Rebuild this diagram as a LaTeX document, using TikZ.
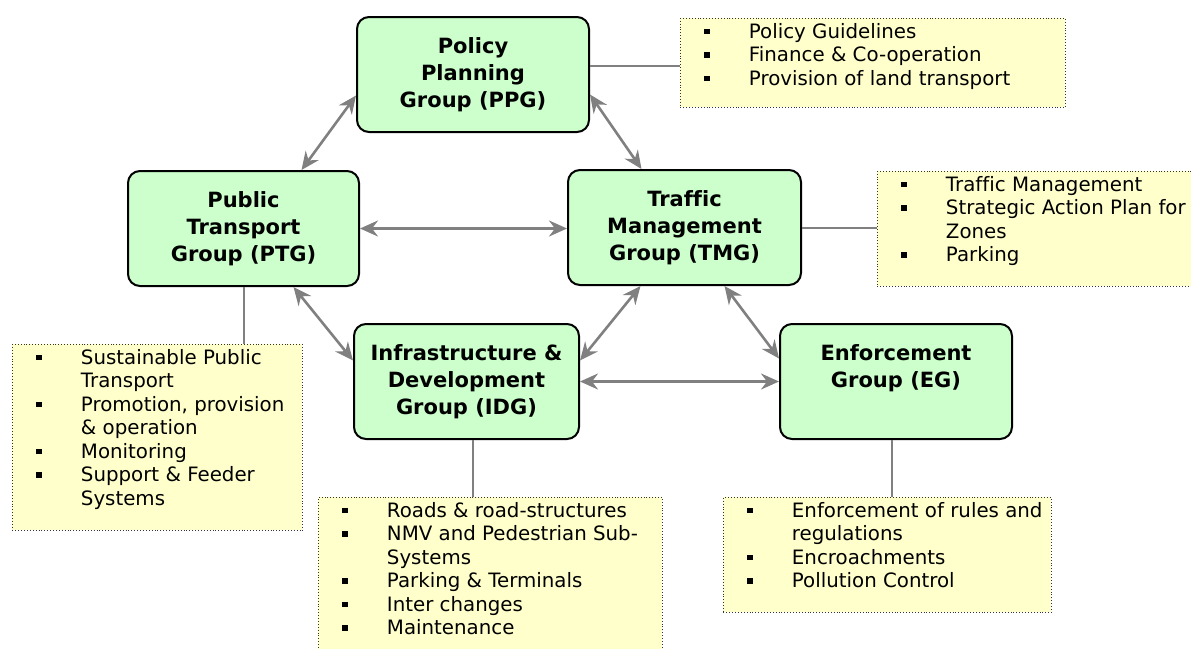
\documentclass[tikz,border=0pt]{standalone}
\usepackage{fontspec}
\setmainfont{DejaVu Sans}[Ligatures=NoCommon]
\usepackage{xcolor}
\usetikzlibrary{arrows.meta}

\definecolor{grpgreen}{HTML}{CCFFCC}
\definecolor{notegelb}{HTML}{FFFFCC}
\definecolor{linegray}{HTML}{808080}

\newcommand{\bul}{\rule[4pt]{5.5pt}{5.5pt}}
\newcommand{\grp}[1]{\parbox[c][115pt][t]{215pt}{\centering\fontsize{21}{27}\selectfont\bfseries\rule{0pt}{36pt}#1}}
\newcommand{\notes}[3]{\parbox[c][#2][t]{#1}{\fontsize{19.8}{23.5}\selectfont\vspace*{3.5pt}%
  \begin{tabular}[t]{@{\hspace{24pt}}l@{\hspace{39pt}}l@{}}#3\end{tabular}}}

\begin{document}
\begin{tikzpicture}[x=1pt, y=-1pt,
  grp/.style={draw=black, line width=2pt, rounded corners=12pt, fill=grpgreen, inner sep=0pt, minimum height=115pt},
  note/.style={draw=black!80, dotted, line width=0.9pt, fill=notegelb, inner sep=0pt, anchor=north west},
  link/.style={linegray, line width=2pt},
  pfeil/.style={linegray, line width=2.6pt, {Stealth[length=18pt,width=16pt,inset=6pt]}-{Stealth[length=18pt,width=16pt,inset=6pt]}}]
  \useasboundingbox (0,0) rectangle (1191,648);

  % Gruppen
  \node[grp, minimum width=232pt] (ppg) at (473,74.5) {\grp{Policy\\Planning\\Group (PPG)}};
  \node[grp, minimum width=231pt] (ptg) at (243.5,228.5) {\grp{Public\\Transport\\Group (PTG)}};
  \node[grp, minimum width=233pt] (tmg) at (684.5,227.5) {\grp{Traffic\\Management\\Group (TMG)}};
  \node[grp, minimum width=225pt] (idg) at (466.5,381.5) {\grp{Infrastructure \&\\Development\\Group (IDG)}};
  \node[grp, minimum width=232pt] (eg) at (896,381.5) {\grp{Enforcement\\Group (EG)}};

  % Aufgaben
  \node[note] (ppgl) at (680,18) {\notes{385pt}{89pt}{\bul & Policy Guidelines\\ \bul & Finance \& Co-operation\\ \bul & Provision of land transport}};
  \node[note] (tmgl) at (877,171) {\notes{330pt}{115pt}{\bul & Traffic Management\\ \bul & Strategic Action Plan for\\ & Zones\\ \bul & Parking}};
  \node[note] (ptgl) at (12,344) {\notes{290pt}{186pt}{\bul & Sustainable Public\\ & Transport\\ \bul & Promotion, provision\\ & \& operation\\ \bul & Monitoring\\ \bul & Support \& Feeder\\ & Systems}};
  \node[note] (idgl) at (318,497) {\notes{344pt}{160pt}{\bul & Roads \& road-structures\\ \bul & NMV and Pedestrian Sub-\\ & Systems\\ \bul & Parking \& Terminals\\ \bul & Inter changes\\ \bul & Maintenance}};
  \node[note] (egl) at (723,497) {\notes{328pt}{115pt}{\bul & Enforcement of rules and\\ & regulations\\ \bul & Encroachments\\ \bul & Pollution Control}};

  \draw[link] ([yshift=9pt]ppg.east) -- ([yshift=9pt]ppg.east -| ppgl.west);
  \draw[link] (tmg.east) -- (tmg.east -| tmgl.west);
  \draw[link] (ptg.south) -- (ptg.south |- ptgl.north);
  \draw[link] ([xshift=6pt]idg.south) -- ([xshift=6pt]idg.south |- idgl.north);
  \draw[link] ([xshift=-4pt]eg.south) -- ([xshift=-4pt]eg.south |- egl.north);

  \draw[pfeil] ([yshift=-21pt]ppg.west) -- ([xshift=58pt]ptg.north);
  \draw[pfeil] ([yshift=-20pt]ppg.east) -- ([xshift=-43pt]tmg.north);
  \draw[pfeil] (ptg.east) -- (ptg.east -| tmg.west);
  \draw[pfeil] ([xshift=50pt]ptg.south) -- ([yshift=21pt]idg.west);
  \draw[pfeil] ([xshift=-44pt]tmg.south) -- ([yshift=21pt]idg.east);
  \draw[pfeil] ([xshift=40pt]tmg.south) -- ([yshift=23pt]eg.west);
  \draw[pfeil] (idg.east) -- (eg.west);
\end{tikzpicture}
\end{document}
